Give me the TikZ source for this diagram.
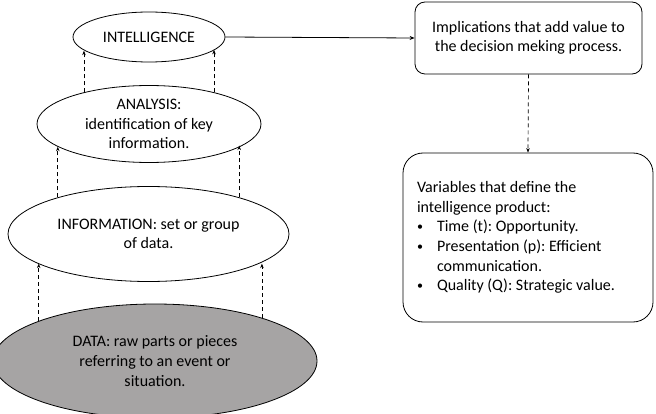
\documentclass[tikz,border=0pt]{standalone}
\usepackage{fontspec}
\setmainfont{Carlito}
\usetikzlibrary{shapes.geometric,arrows.meta}
\definecolor{datagray}{RGB}{166,164,164}
\newcommand{\smbul}{\makebox[20pt][l]{\raisebox{0.12ex}{\fontsize{12}{12}\selectfont\textbullet}}}
\tikzset{
  lvl/.style={ellipse, draw=black, line width=0.8pt, inner sep=0pt, align=flush center,
    font=\fontsize{16}{19.6}\selectfont\frenchspacing},
  rbox/.style={rectangle, draw=black, line width=0.8pt, align=flush center,
    font=\fontsize{16}{19.6}\selectfont\frenchspacing},
  dasharrow/.style={line width=0.7pt, dash pattern=on 4pt off 3pt, -{Stealth[length=4.5pt,width=3.5pt]}},
  solidarrow/.style={line width=0.8pt, -{Stealth[length=5pt,width=4pt]}}
}
\begin{document}
\begin{tikzpicture}[x=1pt,y=-1pt]
\useasboundingbox (0,0) rectangle (656,414);
\clip (0,0) rectangle (656,414);
\node[lvl, minimum width=152pt, minimum height=50pt] (intel) at (149,37) {INTELLIGENCE};
\node[lvl, minimum width=224pt, minimum height=77pt] (anl) at (149,124) {ANALYSIS:\\identification of key\\information.};
\node[lvl, minimum width=281pt, minimum height=95pt] (info) at (148.5,234) {INFORMATION: set or group\\of data.};
\node[lvl, fill=datagray, minimum width=324pt, minimum height=114pt] (data) at (155,361) {DATA: raw parts or pieces\\referring to an event or\\situation.};

\node[rbox, rounded corners=10pt, minimum width=227pt, minimum height=72pt] (impl) at (528.5,38) {Implications that add value to\\the decision meking process.};
\node[rbox, rounded corners=20pt, minimum width=250pt, minimum height=169pt, text width=222pt, inner xsep=14pt, align=flush left] (vars) at (528,237.5)
 {Variables that define the\\
  intelligence product:\\
  \smbul Time (t): Opportunity.\\
  \smbul Presentation (p): Efficient\\
  \hspace*{20pt}communication.\\
  \smbul Quality (Q): Strategic value.};

\draw[dasharrow] (anl.154) -- (anl.154 |- intel.-168);
\draw[dasharrow] (anl.26) -- (anl.26 |- intel.-11);
\draw[dasharrow] (info.158) -- (info.158 |- anl.194);
\draw[dasharrow] (info.22) -- (info.22 |- anl.-13);
\draw[dasharrow] (data.161) -- (data.161 |- info.-165);
\draw[dasharrow] (data.22) -- (data.22 |- info.-15);

\draw[solidarrow] (intel.east) -- (impl.west);
\draw[dasharrow] (impl.south) -- (vars.north);
\end{tikzpicture}
\end{document}
